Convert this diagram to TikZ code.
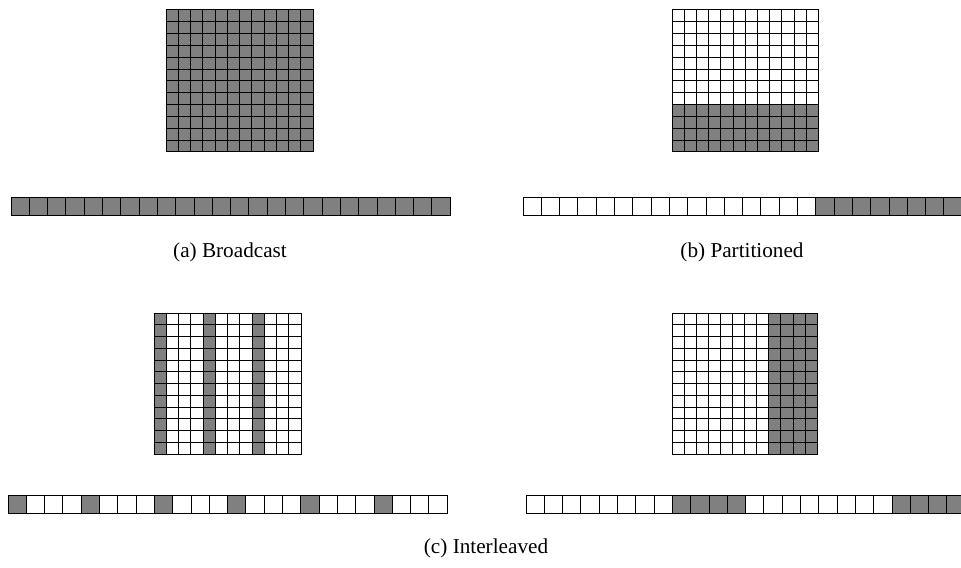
\documentclass[tikz,border=0pt]{standalone}
\usepackage{fontspec}
\setmainfont{Liberation Serif}
\colorlet{cellcol}{black!50!white}
\colorlet{linecol}{black}
\tikzset{
  cell/.style={draw=linecol, line width=0.5pt, fill=white},
  fullcell/.style={cell, fill=cellcol},
  caption/.style={font=\fontsize{10.6}{12}\selectfont, inner sep=0pt}
}

\begin{document}
\begin{tikzpicture}[x=0.5pt, y=-0.5pt]

  \useasboundingbox (0,0) rectangle (961,567);
  \clip (0,0) rectangle (961,567);

  % (a) Broadcast -- matrix and vector, all shared.
  \foreach \i in {0,...,11}
    \foreach \j in {0,...,11}
      \draw[fullcell] (166+\i*12.25, 10+\j*11.83) rectangle ++(12.25,11.83);
  \foreach \i in {0,...,23}
    \draw[fullcell] (11+\i*18.3, 197) rectangle ++(18.3,18);
  \node[caption] (capa) at (230,252) {(a) Broadcast};

  % (b) Partitioned -- bottom rows of the matrix, tail of the vector.
  \foreach \i in {0,...,11}
    \foreach \j in {0,...,7}
      \draw[cell] (672+\i*12.2, 10+\j*11.83) rectangle ++(12.2,11.83);
  \foreach \i in {0,...,11}
    \foreach \j in {8,...,11}
      \draw[fullcell] (672+\i*12.2, 10+\j*11.83) rectangle ++(12.2,11.83);
  \foreach \i in {0,...,15}
    \draw[cell] (523+\i*18.3, 197) rectangle ++(18.3,18);
  \foreach \i in {16,...,23}
    \draw[fullcell] (523+\i*18.3, 197) rectangle ++(18.3,18);
  \node[caption] (capb) at (742,252) {(b) Partitioned};

  % (c) Interleaved -- every fourth column / element.
  \foreach \i in {0,...,11}
    \foreach \j in {0,...,11}
      \draw[cell] (154+\i*12.25, 313+\j*11.75) rectangle ++(12.25,11.75);
  \foreach \i in {0,4,8}
    \foreach \j in {0,...,11}
      \draw[fullcell] (154+\i*12.25, 313+\j*11.75) rectangle ++(12.25,11.75);
  \foreach \i in {0,...,23}
    \draw[cell] (8+\i*18.3, 495) rectangle ++(18.3,18);
  \foreach \i in {0,4,...,20}
    \draw[fullcell] (8+\i*18.3, 495) rectangle ++(18.3,18);

  % Right-hand pair -- blocks of four.
  \foreach \i in {0,...,7}
    \foreach \j in {0,...,11}
      \draw[cell] (672+\i*12.1, 313+\j*11.75) rectangle ++(12.1,11.75);
  \foreach \i in {8,...,11}
    \foreach \j in {0,...,11}
      \draw[fullcell] (672+\i*12.1, 313+\j*11.75) rectangle ++(12.1,11.75);
  \foreach \i in {0,...,23}
    \draw[cell] (526+\i*18.3, 495) rectangle ++(18.3,18);
  \foreach \i in {8,...,11,20,21,22,23}
    \draw[fullcell] (526+\i*18.3, 495) rectangle ++(18.3,18);
  \node[caption] (capc) at (486,548) {(c) Interleaved};

\end{tikzpicture}
\end{document}
